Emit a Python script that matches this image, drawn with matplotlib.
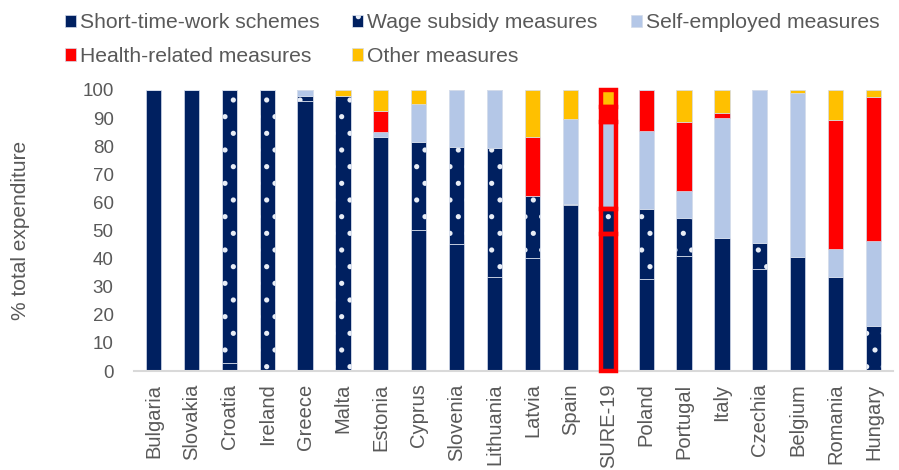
import matplotlib.pyplot as plt
import numpy as np

# 데이터
countries = ['Bulgaria', 'Slovakia', 'Croatia', 'Ireland', 'Greece', 'Malta', 'Estonia',
             'Cyprus', 'Slovenia', 'Lithuania', 'Latvia', 'Spain', 'SURE-19', 'Poland',
             'Portugal', 'Italy', 'Czechia', 'Belgium', 'Romania', 'Hungary']
short_time = [100, 100, 3, 0, 96, 0, 83.2, 50, 45.2, 33.3, 40.2, 59.2, 48.8, 32.8, 41, 47.5, 36.2, 40.6, 33.3, 0]
wage_subsidy = [0, 0, 97, 100, 2, 98, 0, 31.5, 34.4, 46, 22.2, 0.4, 8.8, 24.7, 13.5, 0, 9.5, 0, 0, 16]
self_employed = [0, 0, 0, 0, 2, 0, 1.8, 13.5, 20.4, 20.7, 0, 29.9, 31.1, 27.9, 9.5, 42.6, 54.3, 58.4, 10, 30.1]
health = [0, 0, 0, 0, 0, 0, 7.5, 0, 0, 0, 20.8, 0, 5.3, 14.6, 24.5, 1.7, 0, 0, 46, 51.3]
other = [0, 0, 0, 0, 0, 2, 7.5, 5, 0, 0, 16.8, 10.5, 6, 0, 11.5, 8.2, 0, 1, 10.7, 2.6]

series = [
    ('Short-time-work schemes', short_time, '#002060', None),
    ('Wage subsidy measures', wage_subsidy, '#002060', '.'),
    ('Self-employed measures', self_employed, '#B4C7E7', None),
    ('Health-related measures', health, '#FF0000', None),
    ('Other measures', other, '#FFC000', None),
]

plt.rcParams['font.family'] = ['Liberation Sans', 'DejaVu Sans']
plt.rcParams['hatch.linewidth'] = 1.3
grey = '#595959'

fig = plt.figure(figsize=(8.99, 4.70), dpi=100)
ax = fig.add_axes([0.1496, 0.2106, 0.8432, 0.598])

x = np.arange(len(countries))
width = 0.4
bottom = np.zeros(len(countries))
for name, vals, color, hatch in series:
    vals = np.array(vals, dtype=float)
    ax.bar(x, vals, width, bottom=bottom, color=color, hatch=hatch,
           edgecolor='#e8edf6' if hatch else '#d3dbea', linewidth=0.5, label=name)
    bottom += vals

# SURE-19 강조 (빨간 테두리)
sure = countries.index('SURE-19')
b = 0.0
for name, vals, color, hatch in series:
    if vals[sure] > 0:
        ax.bar(x[sure], vals[sure], width, bottom=b, fill=False,
               edgecolor='#FF0000', linewidth=3.2, clip_on=False, zorder=3)
    b += vals[sure]

ax.set_xlim(-0.5, len(countries) - 0.5)
ax.set_ylim(0, 100)
ax.set_yticks(np.arange(0, 101, 10))
ax.set_xticks(x)
ax.set_xticklabels(countries, rotation=90, fontsize=14.5, color=grey)
ax.tick_params(axis='x', length=0, pad=9)
ax.tick_params(axis='y', length=0, pad=15, labelsize=13.5, labelcolor=grey)

for s in ['top', 'right', 'left']:
    ax.spines[s].set_visible(False)
ax.spines['bottom'].set_color('#d9d9d9')
ax.spines['bottom'].set_linewidth(1.5)

ax.set_ylabel('% total expenditure', fontsize=15, color=grey)
ax.yaxis.set_label_coords(-0.138, 0.5)

# 범례 (행 순서로 채우기)
handles, labels = ax.get_legend_handles_labels()
order = [0, 3, 1, 4, 2]
fig.legend([handles[i] for i in order], [labels[i] for i in order],
           loc='upper left', bbox_to_anchor=(0.072, 0.972),
           ncol=3, frameon=False, fontsize=15.2, borderpad=0, borderaxespad=0,
           handlelength=0.52, handleheight=0.52, handletextpad=0.2,
           columnspacing=1.55, labelspacing=0.7, labelcolor=grey)

fig.savefig('out.png', dpi=100)
